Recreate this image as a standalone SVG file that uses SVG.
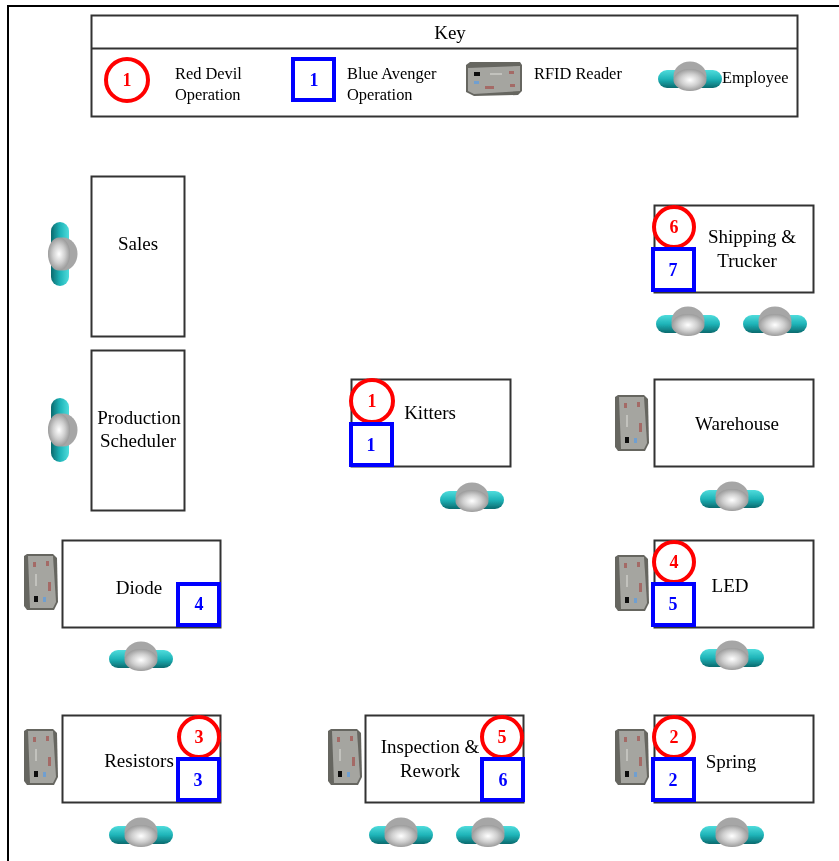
<svg xmlns="http://www.w3.org/2000/svg" xmlns:xlink="http://www.w3.org/1999/xlink" width="839" height="861" viewBox="0 0 839 861">
<style>
text{font-family:"Liberation Serif","Times New Roman",serif;fill:#000;text-anchor:middle}
.l{font-size:19px}
.k{font-size:16.4px;text-anchor:start}
.box{fill:#fff;stroke:#333;stroke-width:2}
.rc{fill:#fff;stroke:#f00;stroke-width:4}
.bs{fill:#fff;stroke:#00f;stroke-width:4}
.rn{font-size:18px;font-weight:bold;fill:#f00}
.bn{font-size:18px;font-weight:bold;fill:#00f}
</style>
<defs>
<filter id="soft" x="-2%" y="-2%" width="104%" height="104%"><feGaussianBlur stdDeviation="0.5"/></filter>
<linearGradient id="teal" x1="0" y1="0" x2="0" y2="1"><stop offset="0" stop-color="#4fdcdc"/><stop offset="0.5" stop-color="#1fb4b8"/><stop offset="1" stop-color="#0a6a6e"/></linearGradient>
<radialGradient id="head" cx="0.5" cy="0.5" r="0.55"><stop offset="0" stop-color="#ffffff"/><stop offset="0.5" stop-color="#cfcfcf"/><stop offset="1" stop-color="#909090"/></radialGradient>
<g id="emp">
<rect x="-32" y="-7" width="64" height="18" rx="9" fill="url(#teal)"/>
<ellipse cx="0" cy="-1" rx="16.500" ry="14.500" fill="#a6a6a6"/>
<ellipse cx="0" cy="3" rx="16.500" ry="11" fill="url(#head)"/>
</g>
<g id="rdr">
<path d="M-28,-14 L-24,-17 L26,-17 L28,-14 L28,12 L24,16 L-20,17 L-28,13 Z" fill="#666661"/>
<path d="M-26,-11 L26,-13 L26,12 L-20,15 L-26,12 Z" fill="#a5a5a0"/>
<rect x="-20" y="-7" width="6" height="4" fill="#111"/>
<rect x="-20" y="2" width="5" height="3" fill="#6f9fd0"/>
<rect x="-9" y="7" width="9" height="3" fill="#a46a66"/>
<rect x="15" y="-8" width="5" height="3" fill="#a46a66"/>
<rect x="16" y="5" width="5" height="3" fill="#a46a66"/>
<rect x="-4" y="-6" width="12" height="2" fill="#c2c2bd"/>
</g>
</defs>
<rect width="839" height="861" fill="#fff"/>
<g filter="url(#soft)">
<g id="frame"><path d="M8,861V6H839" fill="none" stroke="#000" stroke-width="2"/></g>

<g id="key">
<rect class="box" x="91.500" y="15.500" width="706" height="101"/>
<line class="box" x1="91.500" y1="48.500" x2="797.500" y2="48.500"/>
<text class="l" x="450" y="39">Key</text>
<circle class="rc" cx="127" cy="80" r="21"/><text class="rn" x="127" y="86">1</text>
<text class="k" x="175" y="79">Red Devil</text><text class="k" x="175" y="100">Operation</text>
<rect class="bs" x="293" y="59" width="41" height="41"/><text class="bn" x="314" y="86">1</text>
<text class="k" x="347" y="79">Blue Avenger</text><text class="k" x="347" y="100">Operation</text>
<use xlink:href="#rdr" href="#rdr" x="494" y="79"/>
<text class="k" x="534" y="79">RFID Reader</text>
<use xlink:href="#emp" href="#emp" x="690" y="77"/>
<text class="k" x="722" y="83">Employee</text>
</g>

<g id="sales">
<rect class="box" x="91.500" y="176.500" width="93" height="160"/>
<text class="l" x="138" y="250">Sales</text>
<use xlink:href="#emp" href="#emp" transform="translate(62,254) rotate(90)"/>
</g>
<g id="production-scheduler">
<rect class="box" x="91.500" y="350.500" width="93" height="160"/>
<text class="l" x="139" y="424">Production</text><text class="l" x="138" y="447">Scheduler</text>
<use xlink:href="#emp" href="#emp" transform="translate(62,430) rotate(90)"/>
</g>
<g id="shipping">
<rect class="box" x="654.500" y="205.500" width="159" height="87"/>
<text class="l" x="752" y="243">Shipping &amp;</text><text class="l" x="747" y="267">Trucker</text>
<circle class="rc" cx="674" cy="227" r="20"/><text class="rn" x="674" y="233">6</text>
<rect class="bs" x="653" y="249" width="41" height="41"/><text class="bn" x="673" y="276">7</text>
<use xlink:href="#emp" href="#emp" x="688" y="322"/>
<use xlink:href="#emp" href="#emp" x="775" y="322"/>
</g>
<g id="kitters">
<rect class="box" x="351.500" y="379.500" width="159" height="87"/>
<text class="l" x="430" y="419">Kitters</text>
<circle class="rc" cx="372" cy="401" r="21"/><text class="rn" x="372" y="407">1</text>
<rect class="bs" x="351" y="424" width="41" height="41"/><text class="bn" x="371" y="451">1</text>
<use xlink:href="#emp" href="#emp" x="472" y="498"/>
</g>
<g id="warehouse">
<rect class="box" x="654.500" y="379.500" width="159" height="87"/>
<text class="l" x="737" y="430">Warehouse</text>
<use xlink:href="#rdr" href="#rdr" transform="translate(632,423) rotate(-90)"/>
<use xlink:href="#emp" href="#emp" x="732" y="497"/>
</g>
<g id="diode">
<rect class="box" x="62.500" y="540.500" width="158" height="87"/>
<text class="l" x="139" y="594">Diode</text>
<rect class="bs" x="178" y="584" width="41" height="41"/><text class="bn" x="199" y="610">4</text>
<use xlink:href="#rdr" href="#rdr" transform="translate(41,582) rotate(-90)"/>
<use xlink:href="#emp" href="#emp" x="141" y="657"/>
</g>
<g id="led">
<rect class="box" x="654.500" y="540.500" width="159" height="87"/>
<text class="l" x="730" y="592">LED</text>
<circle class="rc" cx="674" cy="562" r="20"/><text class="rn" x="674" y="568">4</text>
<rect class="bs" x="653" y="584" width="41" height="41"/><text class="bn" x="673" y="610">5</text>
<use xlink:href="#rdr" href="#rdr" transform="translate(632,583) rotate(-90)"/>
<use xlink:href="#emp" href="#emp" x="732" y="656"/>
</g>
<g id="resistors">
<rect class="box" x="62.500" y="715.500" width="158" height="87"/>
<text class="l" x="139" y="767">Resistors</text>
<circle class="rc" cx="199" cy="737" r="20"/><text class="rn" x="199" y="743">3</text>
<rect class="bs" x="178" y="759" width="41" height="41"/><text class="bn" x="198" y="786">3</text>
<use xlink:href="#rdr" href="#rdr" transform="translate(41,757) rotate(-90)"/>
<use xlink:href="#emp" href="#emp" x="141" y="833"/>
</g>
<g id="inspection">
<rect class="box" x="365.500" y="715.500" width="158" height="87"/>
<text class="l" x="430" y="753">Inspection &amp;</text><text class="l" x="430" y="777">Rework</text>
<circle class="rc" cx="502" cy="737" r="20"/><text class="rn" x="502" y="743">5</text>
<rect class="bs" x="482" y="759" width="41" height="41"/><text class="bn" x="503" y="786">6</text>
<use xlink:href="#rdr" href="#rdr" transform="translate(345,757) rotate(-90)"/>
<use xlink:href="#emp" href="#emp" x="401" y="833"/>
<use xlink:href="#emp" href="#emp" x="488" y="833"/>
</g>
<g id="spring">
<rect class="box" x="654.500" y="715.500" width="159" height="87"/>
<text class="l" x="731" y="768">Spring</text>
<circle class="rc" cx="674" cy="737" r="20"/><text class="rn" x="674" y="743">2</text>
<rect class="bs" x="653" y="759" width="41" height="41"/><text class="bn" x="673" y="786">2</text>
<use xlink:href="#rdr" href="#rdr" transform="translate(632,757) rotate(-90)"/>
<use xlink:href="#emp" href="#emp" x="732" y="833"/>
</g>
</g>
</svg>
